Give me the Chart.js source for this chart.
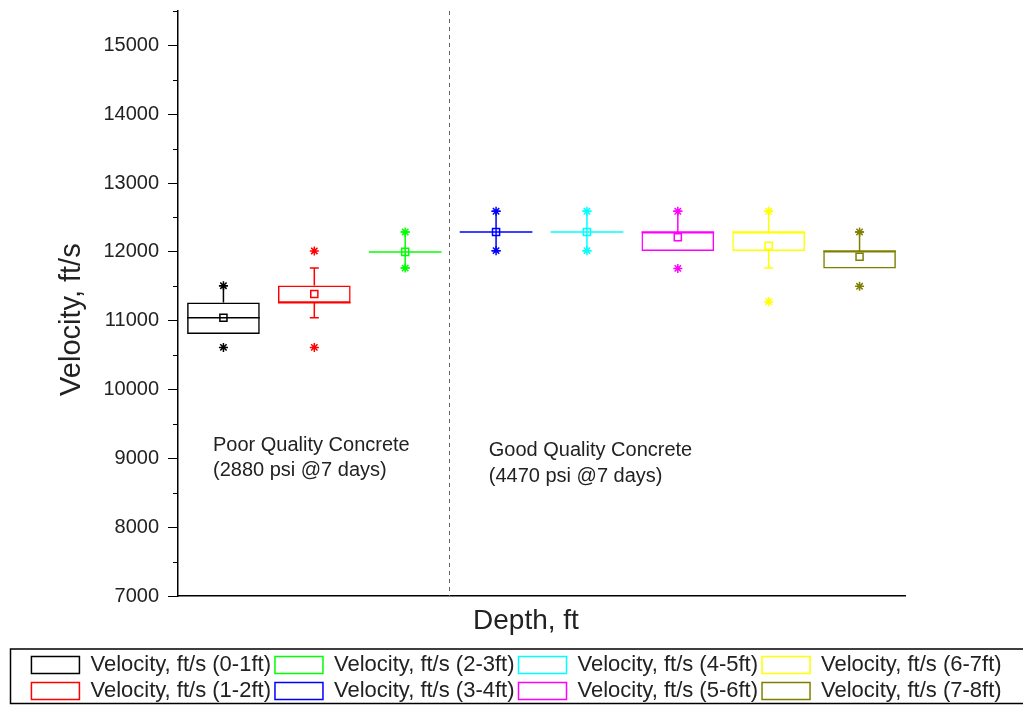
<!DOCTYPE html>
<html>
<head>
<meta charset="utf-8">
<script src="https://cdn.jsdelivr.net/npm/chart.js@4.4.1/dist/chart.umd.min.js"></script>
<style>
  body { margin: 0; background: #fff; }
  #wrap { width: 1023px; height: 706px; position: relative; }
</style>
</head>
<body>
<div id="wrap"><canvas id="velChart"></canvas></div>
<script>
// depth groups
var depths = ['0-1ft', '1-2ft', '2-3ft', '3-4ft', '4-5ft', '5-6ft', '6-7ft', '7-8ft'];
var colors = ['#000000', '#ff0000', '#00ff00', '#0000ff', '#00ffff', '#ff00ff', '#ffff00', '#808000'];

// box statistics (ft/s)
var q1 = [10806, 11262, 12000, 12290, 12290, 12014, 12014, 11760];
var q3 = [11266, 11513, 12000, 12290, 12290, 12290, 12290, 12014];
var median = [11044, 11262, 12000, 12290, 12290, 12290, 12290, 12014];
var mean = [11044, 11388, 12000, 12290, 12290, 12212, 12090, 11930];
var whiskerLow = [10806, 11044, 11764, 12018, 12018, 12014, 11766, 11760];
var whiskerHigh = [11509, 11767, 12290, 12590, 12590, 12590, 12590, 12290];
var starMax = [11509, 12014, 12290, 12590, 12590, 12590, 12590, 12290];
var starMin = [10612, 10612, 11764, 12018, 12018, 11760, 11276, 11500];

var yTicks = [7000, 8000, 9000, 10000, 11000, 12000, 13000, 14000, 15000];
var notes = [
  { lines: ['Poor Quality Concrete', '(2880 psi @7 days)'], x: -0.115, y: [9182, 8818] },
  { lines: ['Good Quality Concrete', '(4470 psi @7 days)'], x: 2.92, y: [9109, 8731] }
];

var FONT = "'Liberation Sans', Arial, sans-serif";

function onlyAt(i, v) {
  return depths.map(function(d, j) { return j === i ? v : null; });
}

var datasets = [];
depths.forEach(function(d, i) {
  datasets.push({
    type: 'bar',
    label: 'Velocity, ft/s (' + d + ')',
    data: onlyAt(i, [q1[i], q3[i]]),
    backgroundColor: 'rgba(255,255,255,0)',
    borderColor: colors[i],
    borderWidth: 1.5,
    borderSkipped: false,
    grouped: false,
    barPercentage: 0.8,
    categoryPercentage: 1.0,
    order: 2
  });
});
depths.forEach(function(d, i) {
  datasets.push({
    type: 'line', label: 'mean', data: onlyAt(i, mean[i]), showLine: false,
    pointStyle: 'rect', pointRadius: 5, borderColor: colors[i], borderWidth: 1.5,
    backgroundColor: 'rgba(255,255,255,0)', order: 0
  });
  datasets.push({
    type: 'line', label: 'max', data: onlyAt(i, starMax[i]), showLine: false,
    pointStyle: 'star', pointRadius: 4.5, borderColor: colors[i], borderWidth: 1.5, order: 0
  });
  datasets.push({
    type: 'line', label: 'min', data: onlyAt(i, starMin[i]), showLine: false,
    pointStyle: 'star', pointRadius: 4.5, borderColor: colors[i], borderWidth: 1.5, order: 0
  });
});

// whiskers, medians, minor ticks, divider, notes, legend frame
var boxExtras = {
  id: 'boxExtras',
  afterDatasetsDraw: function(chart) {
    var ctx = chart.ctx, xs = chart.scales.x, ys = chart.scales.y;
    ctx.save();
    ctx.lineWidth = 1.5;
    depths.forEach(function(d, i) {
      var bar = chart.getDatasetMeta(i).data[i];
      var x = xs.getPixelForValue(i);
      var half = bar.width / 2;
      var cap = 4.5;
      ctx.strokeStyle = colors[i];
      ctx.beginPath();
      ctx.moveTo(x - half, ys.getPixelForValue(median[i]));
      ctx.lineTo(x + half, ys.getPixelForValue(median[i]));
      if (whiskerHigh[i] > q3[i]) {
        var yh = ys.getPixelForValue(whiskerHigh[i]);
        ctx.moveTo(x, ys.getPixelForValue(q3[i]));
        ctx.lineTo(x, yh);
        ctx.moveTo(x - cap, yh);
        ctx.lineTo(x + cap, yh);
      }
      if (whiskerLow[i] < q1[i]) {
        var yl = ys.getPixelForValue(whiskerLow[i]);
        ctx.moveTo(x, ys.getPixelForValue(q1[i]));
        ctx.lineTo(x, yl);
        ctx.moveTo(x - cap, yl);
        ctx.lineTo(x + cap, yl);
      }
      ctx.stroke();
    });
    ctx.restore();
  },
  afterDraw: function(chart) {
    var ctx = chart.ctx, xs = chart.scales.x, ys = chart.scales.y, area = chart.chartArea;
    ctx.save();
    // minor ticks
    ctx.strokeStyle = '#000';
    ctx.lineWidth = 1;
    ctx.beginPath();
    yTicks.forEach(function(t) {
      var py = Math.round(ys.getPixelForValue(t + 500)) + 0.5;
      ctx.moveTo(area.left - 5, py);
      ctx.lineTo(area.left, py);
    });
    ctx.stroke();
    // divider between the two concretes
    var xd = Math.round((xs.getPixelForValue(2) + xs.getPixelForValue(3)) / 2) - 1.5;
    ctx.strokeStyle = '#666';
    ctx.setLineDash([4, 4]);
    ctx.beginPath();
    ctx.moveTo(xd, area.top);
    ctx.lineTo(xd, area.bottom);
    ctx.stroke();
    ctx.setLineDash([]);
    // notes
    ctx.fillStyle = '#222';
    ctx.font = '20px ' + FONT;
    ctx.textAlign = 'left';
    ctx.textBaseline = 'middle';
    notes.forEach(function(n) {
      var px = xs.getPixelForValue(0) + n.x * (xs.getPixelForValue(1) - xs.getPixelForValue(0));
      n.lines.forEach(function(s, k) {
        ctx.fillText(s, px, ys.getPixelForValue(n.y[k]));
      });
    });
    // legend frame
    var lg = chart.legend;
    ctx.strokeStyle = '#000';
    ctx.lineWidth = 1.5;
    ctx.strokeRect(lg.left + 0.5, lg.top - 1, chart.width + 5, chart.height - lg.top - 1.5);
    ctx.restore();
  }
};

var legendPos = [0, 4, 1, 5, 2, 6, 3, 7];

new Chart(document.getElementById('velChart'), {
  type: 'bar',
  data: { labels: depths, datasets: datasets },
  options: {
    responsive: true,
    maintainAspectRatio: false,
    animation: false,
    layout: { padding: { left: 10, top: 11, right: 0, bottom: -6 } },
    plugins: {
      tooltip: { enabled: false },
      legend: {
        position: 'bottom',
        labels: {
          font: { family: FONT, size: 22 },
          color: '#222',
          boxWidth: 48,
          boxHeight: 17,
          padding: 4,
          filter: function(item) { return item.datasetIndex < depths.length; },
          sort: function(a, b) { return legendPos[a.datasetIndex] - legendPos[b.datasetIndex]; }
        }
      }
    },
    scales: {
      x: {
        type: 'category',
        offset: true,
        grid: { display: false },
        border: { display: true, color: '#000', width: 1.5 },
        ticks: { display: false },
        title: { display: true, text: 'Depth, ft    ', color: '#222', font: { family: FONT, size: 28 }, padding: { top: 0, bottom: 12 } },
        afterFit: function(s) { s.height = 54; }
      },
      y: {
        min: 7000,
        max: 15500,
        afterBuildTicks: function(s) {
          s.ticks = yTicks.map(function(v) { return { value: v }; });
        },
        ticks: {
          color: '#222', font: { family: FONT, size: 20 }, padding: 9,
          callback: function(v) { return String(v); }
        },
        grid: { drawOnChartArea: false, drawTicks: true, tickLength: 10, tickColor: '#000' },
        border: { display: true, color: '#000', width: 1.5 },
        title: { display: true, text: 'Velocity, ft/s    ', color: '#222', font: { family: FONT, size: 29 }, padding: { top: 45, bottom: 0 } },
        afterFit: function(s) { s.width = 168; s.paddingTop = 0; s.paddingBottom = 0; }
      },
      yR: {
        position: 'right',
        display: true,
        grid: { display: false },
        border: { display: false },
        ticks: { display: false },
        afterFit: function(s) { s.width = 118; }
      }
    }
  },
  plugins: [boxExtras]
});
</script>
</body>
</html>
